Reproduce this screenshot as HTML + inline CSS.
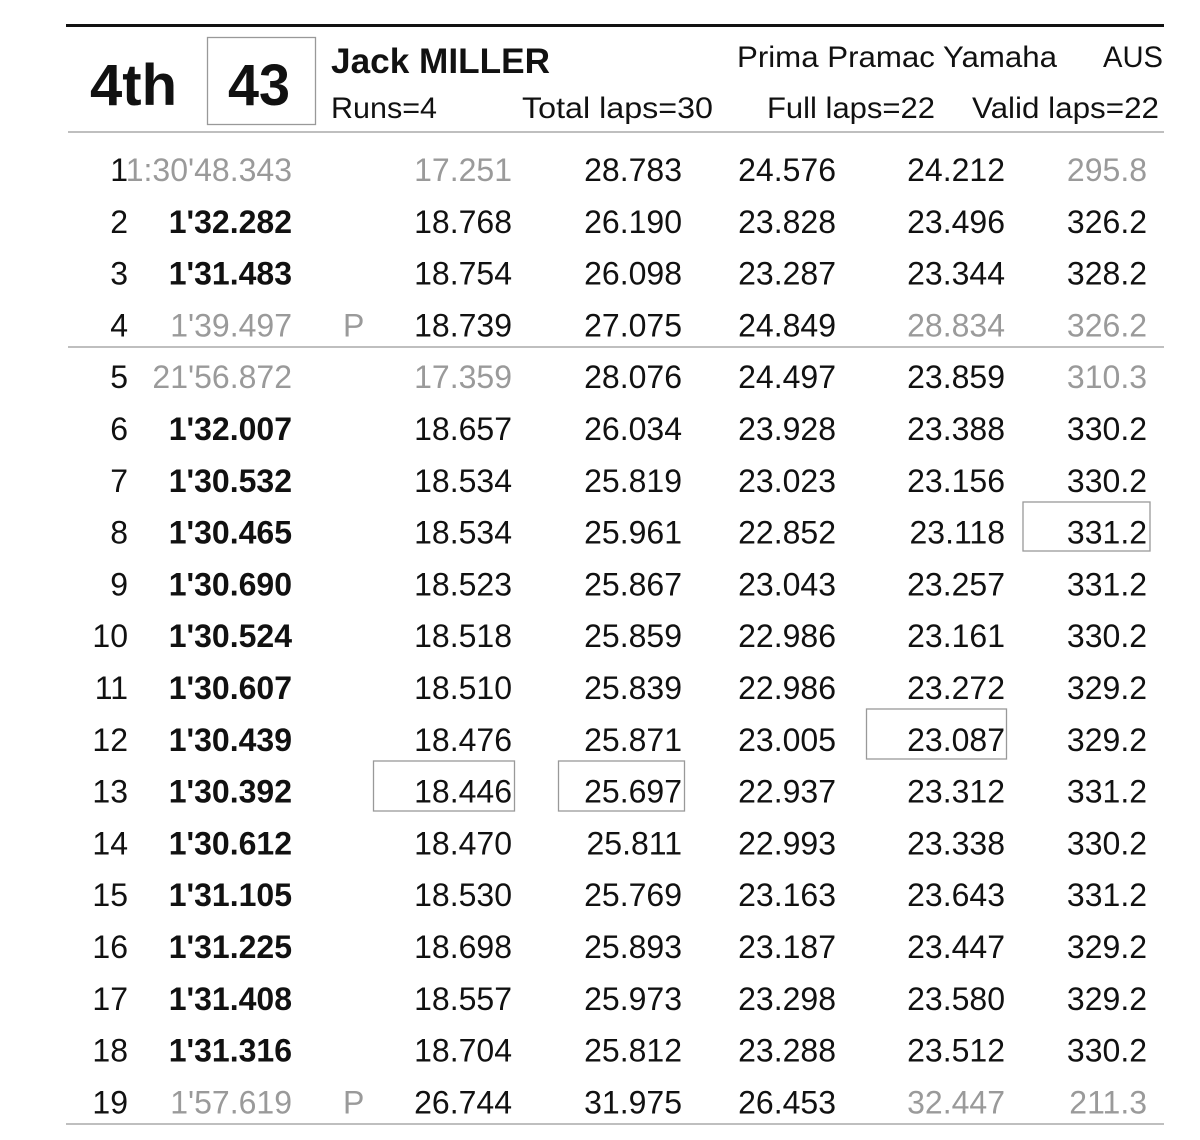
<!DOCTYPE html>
<html><head><meta charset="utf-8"><style>
html,body{margin:0;padding:0;background:#fff;}
svg{display:block;}
text{font-family:"Liberation Sans",sans-serif;}
.d{font-size:32px;fill:#111;}
.g{fill:#9a9a9a;}
.b{font-weight:bold;}
.e{text-anchor:end;}
</style></head><body>
<svg width="1200" height="1140" viewBox="0 0 1200 1140" xmlns="http://www.w3.org/2000/svg">
<rect width="1200" height="1140" fill="#fff"/>
<line x1="66" y1="25.5" x2="1164" y2="25.5" stroke="#111" stroke-width="3"/>
<text x="90" y="105" font-size="58" font-weight="bold" fill="#111" textLength="87" lengthAdjust="spacingAndGlyphs">4th</text>
<rect x="207.5" y="37.5" width="108" height="87" fill="none" stroke="#999" stroke-width="1.3"/>
<text x="228" y="105" font-size="58" font-weight="bold" fill="#111" textLength="62" lengthAdjust="spacingAndGlyphs">43</text>
<text x="331" y="73" font-size="35" font-weight="bold" fill="#111" textLength="219" lengthAdjust="spacingAndGlyphs">Jack MILLER</text>
<text x="737" y="67" font-size="30" fill="#111" textLength="320" lengthAdjust="spacingAndGlyphs">Prima Pramac Yamaha</text>
<text x="1103" y="67" font-size="30" fill="#111" textLength="60" lengthAdjust="spacingAndGlyphs">AUS</text>
<text x="331" y="118" font-size="30" fill="#111" textLength="106" lengthAdjust="spacingAndGlyphs">Runs=4</text>
<text x="522" y="118" font-size="30" fill="#111" textLength="191" lengthAdjust="spacingAndGlyphs">Total laps=30</text>
<text x="767" y="118" font-size="30" fill="#111" textLength="168" lengthAdjust="spacingAndGlyphs">Full laps=22</text>
<text x="972" y="118" font-size="30" fill="#111" textLength="187" lengthAdjust="spacingAndGlyphs">Valid laps=22</text>
<line x1="68" y1="132" x2="1164" y2="132" stroke="#aaa" stroke-width="1.5"/>
<line x1="68" y1="347" x2="1164" y2="347" stroke="#aaa" stroke-width="1.5"/>
<line x1="66" y1="1124" x2="1164" y2="1124" stroke="#aaa" stroke-width="1.5"/>

<!-- highlight boxes -->
<rect x="1023" y="502" width="127" height="49" fill="none" stroke="#999" stroke-width="1.3"/>
<rect x="866.5" y="709" width="140" height="50" fill="none" stroke="#999" stroke-width="1.3"/>
<rect x="373.5" y="761" width="141" height="50" fill="none" stroke="#999" stroke-width="1.3"/>
<rect x="558.5" y="761" width="126" height="50" fill="none" stroke="#999" stroke-width="1.3"/>

<g class="d">
<!-- row 1 -->
<text class="e" x="128" y="181">1</text>
<text class="e g" x="292" y="181">1:30'48.343</text>
<text class="e g" x="512" y="181">17.251</text>
<text class="e" x="682" y="181">28.783</text>
<text class="e" x="836" y="181">24.576</text>
<text class="e" x="1005" y="181">24.212</text>
<text class="e g" x="1147" y="181">295.8</text>
<!-- row 2 -->
<text class="e" x="128" y="232.8">2</text>
<text class="e b" x="292" y="232.8">1'32.282</text>
<text class="e" x="512" y="232.8">18.768</text>
<text class="e" x="682" y="232.8">26.190</text>
<text class="e" x="836" y="232.8">23.828</text>
<text class="e" x="1005" y="232.8">23.496</text>
<text class="e" x="1147" y="232.8">326.2</text>
<!-- row 3 -->
<text class="e" x="128" y="284.6">3</text>
<text class="e b" x="292" y="284.6">1'31.483</text>
<text class="e" x="512" y="284.6">18.754</text>
<text class="e" x="682" y="284.6">26.098</text>
<text class="e" x="836" y="284.6">23.287</text>
<text class="e" x="1005" y="284.6">23.344</text>
<text class="e" x="1147" y="284.6">328.2</text>
<!-- row 4 -->
<text class="e" x="128" y="336.4">4</text>
<text class="e g" x="292" y="336.4">1'39.497</text>
<text class="g" x="343" y="336.4">P</text>
<text class="e" x="512" y="336.4">18.739</text>
<text class="e" x="682" y="336.4">27.075</text>
<text class="e" x="836" y="336.4">24.849</text>
<text class="e g" x="1005" y="336.4">28.834</text>
<text class="e g" x="1147" y="336.4">326.2</text>
<!-- row 5 -->
<text class="e" x="128" y="388.2">5</text>
<text class="e g" x="292" y="388.2">21'56.872</text>
<text class="e g" x="512" y="388.2">17.359</text>
<text class="e" x="682" y="388.2">28.076</text>
<text class="e" x="836" y="388.2">24.497</text>
<text class="e" x="1005" y="388.2">23.859</text>
<text class="e g" x="1147" y="388.2">310.3</text>
<!-- row 6 -->
<text class="e" x="128" y="440">6</text>
<text class="e b" x="292" y="440">1'32.007</text>
<text class="e" x="512" y="440">18.657</text>
<text class="e" x="682" y="440">26.034</text>
<text class="e" x="836" y="440">23.928</text>
<text class="e" x="1005" y="440">23.388</text>
<text class="e" x="1147" y="440">330.2</text>
<!-- row 7 -->
<text class="e" x="128" y="491.8">7</text>
<text class="e b" x="292" y="491.8">1'30.532</text>
<text class="e" x="512" y="491.8">18.534</text>
<text class="e" x="682" y="491.8">25.819</text>
<text class="e" x="836" y="491.8">23.023</text>
<text class="e" x="1005" y="491.8">23.156</text>
<text class="e" x="1147" y="491.8">330.2</text>
<!-- row 8 -->
<text class="e" x="128" y="543.6">8</text>
<text class="e b" x="292" y="543.6">1'30.465</text>
<text class="e" x="512" y="543.6">18.534</text>
<text class="e" x="682" y="543.6">25.961</text>
<text class="e" x="836" y="543.6">22.852</text>
<text class="e" x="1005" y="543.6">23.118</text>
<text class="e" x="1147" y="543.6">331.2</text>
<!-- row 9 -->
<text class="e" x="128" y="595.4">9</text>
<text class="e b" x="292" y="595.4">1'30.690</text>
<text class="e" x="512" y="595.4">18.523</text>
<text class="e" x="682" y="595.4">25.867</text>
<text class="e" x="836" y="595.4">23.043</text>
<text class="e" x="1005" y="595.4">23.257</text>
<text class="e" x="1147" y="595.4">331.2</text>
<!-- row 10 -->
<text class="e" x="128" y="647.2">10</text>
<text class="e b" x="292" y="647.2">1'30.524</text>
<text class="e" x="512" y="647.2">18.518</text>
<text class="e" x="682" y="647.2">25.859</text>
<text class="e" x="836" y="647.2">22.986</text>
<text class="e" x="1005" y="647.2">23.161</text>
<text class="e" x="1147" y="647.2">330.2</text>
<!-- row 11 -->
<text class="e" x="128" y="699">11</text>
<text class="e b" x="292" y="699">1'30.607</text>
<text class="e" x="512" y="699">18.510</text>
<text class="e" x="682" y="699">25.839</text>
<text class="e" x="836" y="699">22.986</text>
<text class="e" x="1005" y="699">23.272</text>
<text class="e" x="1147" y="699">329.2</text>
<!-- row 12 -->
<text class="e" x="128" y="750.8">12</text>
<text class="e b" x="292" y="750.8">1'30.439</text>
<text class="e" x="512" y="750.8">18.476</text>
<text class="e" x="682" y="750.8">25.871</text>
<text class="e" x="836" y="750.8">23.005</text>
<text class="e" x="1005" y="750.8">23.087</text>
<text class="e" x="1147" y="750.8">329.2</text>
<!-- row 13 -->
<text class="e" x="128" y="802.6">13</text>
<text class="e b" x="292" y="802.6">1'30.392</text>
<text class="e" x="512" y="802.6">18.446</text>
<text class="e" x="682" y="802.6">25.697</text>
<text class="e" x="836" y="802.6">22.937</text>
<text class="e" x="1005" y="802.6">23.312</text>
<text class="e" x="1147" y="802.6">331.2</text>
<!-- row 14 -->
<text class="e" x="128" y="854.4">14</text>
<text class="e b" x="292" y="854.4">1'30.612</text>
<text class="e" x="512" y="854.4">18.470</text>
<text class="e" x="682" y="854.4">25.811</text>
<text class="e" x="836" y="854.4">22.993</text>
<text class="e" x="1005" y="854.4">23.338</text>
<text class="e" x="1147" y="854.4">330.2</text>
<!-- row 15 -->
<text class="e" x="128" y="906.2">15</text>
<text class="e b" x="292" y="906.2">1'31.105</text>
<text class="e" x="512" y="906.2">18.530</text>
<text class="e" x="682" y="906.2">25.769</text>
<text class="e" x="836" y="906.2">23.163</text>
<text class="e" x="1005" y="906.2">23.643</text>
<text class="e" x="1147" y="906.2">331.2</text>
<!-- row 16 -->
<text class="e" x="128" y="958">16</text>
<text class="e b" x="292" y="958">1'31.225</text>
<text class="e" x="512" y="958">18.698</text>
<text class="e" x="682" y="958">25.893</text>
<text class="e" x="836" y="958">23.187</text>
<text class="e" x="1005" y="958">23.447</text>
<text class="e" x="1147" y="958">329.2</text>
<!-- row 17 -->
<text class="e" x="128" y="1009.8">17</text>
<text class="e b" x="292" y="1009.8">1'31.408</text>
<text class="e" x="512" y="1009.8">18.557</text>
<text class="e" x="682" y="1009.8">25.973</text>
<text class="e" x="836" y="1009.8">23.298</text>
<text class="e" x="1005" y="1009.8">23.580</text>
<text class="e" x="1147" y="1009.8">329.2</text>
<!-- row 18 -->
<text class="e" x="128" y="1061.6">18</text>
<text class="e b" x="292" y="1061.6">1'31.316</text>
<text class="e" x="512" y="1061.6">18.704</text>
<text class="e" x="682" y="1061.6">25.812</text>
<text class="e" x="836" y="1061.6">23.288</text>
<text class="e" x="1005" y="1061.6">23.512</text>
<text class="e" x="1147" y="1061.6">330.2</text>
<!-- row 19 -->
<text class="e" x="128" y="1113.4">19</text>
<text class="e g" x="292" y="1113.4">1'57.619</text>
<text class="g" x="343" y="1113.4">P</text>
<text class="e" x="512" y="1113.4">26.744</text>
<text class="e" x="682" y="1113.4">31.975</text>
<text class="e" x="836" y="1113.4">26.453</text>
<text class="e g" x="1005" y="1113.4">32.447</text>
<text class="e g" x="1147" y="1113.4">211.3</text>
</g>
</svg>
</body></html>
